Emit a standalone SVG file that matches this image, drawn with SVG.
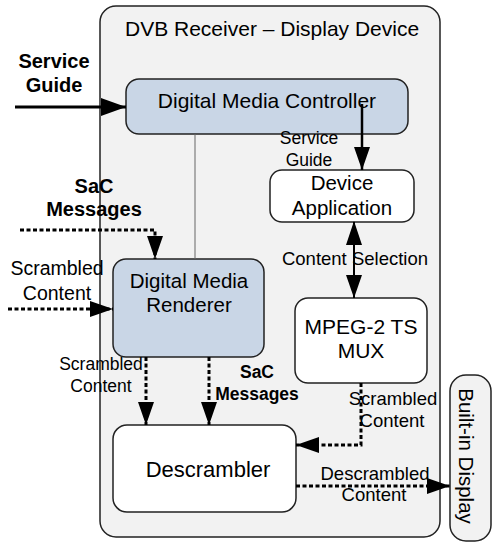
<svg xmlns="http://www.w3.org/2000/svg" width="493" height="544" viewBox="0 0 493 544">
  <style>
    text { font-family: "Liberation Sans", Arial, sans-serif; fill: #000; }
    .box { stroke: #222; stroke-width: 1.5; }
    .blue { fill: #c9d6e6; }
    .white { fill: #fff; }
    .grey { fill: #f2f2f2; }
    .solid { fill: none; stroke: #000; stroke-width: 2.5; }
    .dash { fill: none; stroke: #000; stroke-width: 3; stroke-dasharray: 4 2.5; }
    .big { font-size: 20.5px; }
    .mid { font-size: 18.5px; }
    .small { font-size: 17.5px; }
    .bold { font-size: 20px; font-weight: bold; }
  </style>
  <defs>
    <marker id="arr" markerUnits="userSpaceOnUse" markerWidth="26" markerHeight="18" refX="25" refY="9" orient="auto">
      <path d="M0,0 L25,9 L0,18 Z" fill="#000"/>
    </marker>
    <marker id="arrS" markerUnits="userSpaceOnUse" markerWidth="24" markerHeight="16" refX="23" refY="8" orient="auto">
      <path d="M0,0 L23,8 L0,16 Z" fill="#000"/>
    </marker>
    <marker id="arrStart" markerUnits="userSpaceOnUse" markerWidth="24" markerHeight="16" refX="1" refY="8" orient="auto">
      <path d="M24,0 L0,8 L24,16 Z" fill="#000"/>
    </marker>
  </defs>

  <!-- outer device container -->
  <g id="dvb-receiver">
    <rect class="box grey" x="100" y="6" width="340" height="531" rx="16"/>
    <text class="big" x="125" y="36" style="font-size:21px">DVB Receiver – Display Device</text>
  </g>

  <g id="digital-media-controller">
    <rect class="box blue" x="126" y="79" width="282" height="55" rx="13"/>
    <text class="big" x="267" y="108" text-anchor="middle" style="font-size:21px">Digital Media Controller</text>
  </g>

  <g id="device-application">
    <rect class="box white" x="270" y="170" width="144" height="52" rx="12"/>
    <text class="big" x="342" y="190" text-anchor="middle">Device</text>
    <text class="big" x="342" y="215" text-anchor="middle">Application</text>
  </g>

  <g id="mpeg2-ts-mux">
    <rect class="box white" x="295" y="298" width="132" height="85" rx="13"/>
    <text class="big" x="361" y="334" text-anchor="middle" style="font-size:21px">MPEG-2 TS</text>
    <text class="big" x="361" y="358" text-anchor="middle" style="font-size:21px">MUX</text>
  </g>

  <g id="digital-media-renderer">
    <rect class="box blue" x="113" y="259" width="151" height="98" rx="13"/>
    <text class="big" x="189" y="288" text-anchor="middle">Digital Media</text>
    <text class="big" x="189" y="312" text-anchor="middle">Renderer</text>
  </g>

  <g id="descrambler">
    <rect class="box white" x="113" y="425" width="183" height="87" rx="14"/>
    <text class="big" x="208" y="477" text-anchor="middle" style="font-size:22px">Descrambler</text>
  </g>

  <g id="built-in-display">
    <rect class="box grey" x="450" y="375" width="41" height="166" rx="16"/>
    <text class="big" transform="translate(459,456) rotate(90)" text-anchor="middle">Built-in Display</text>
  </g>

  <!-- connectors -->
  <g id="connectors">
    <line x1="195" y1="134" x2="195" y2="259" stroke="#666" stroke-width="1"/>
    <line class="solid" x1="15" y1="107" x2="126" y2="107" style="stroke-width:3px" marker-end="url(#arr)"/>
    <line class="solid" x1="362" y1="104" x2="362" y2="170" marker-end="url(#arrS)"/>
    <line class="solid" x1="354" y1="222" x2="354" y2="298" style="stroke-width:2px" marker-start="url(#arrStart)" marker-end="url(#arrS)"/>
    <path class="dash" d="M20,230 H155 V259" marker-end="url(#arrS)"/>
    <line class="dash" x1="8" y1="309" x2="113" y2="309" marker-end="url(#arrS)"/>
    <line class="dash" x1="146" y1="357" x2="146" y2="425" marker-end="url(#arrS)"/>
    <line class="dash" x1="209" y1="357" x2="209" y2="425" marker-end="url(#arrS)"/>
    <path class="dash" d="M361,383 V445 H296" marker-end="url(#arrS)"/>
    <line class="dash" x1="296" y1="486" x2="450" y2="486" marker-end="url(#arrS)"/>
  </g>

  <!-- connector labels -->
  <g id="labels">
    <text class="bold" x="54" y="68" text-anchor="middle">Service</text>
    <text class="bold" x="54" y="92" text-anchor="middle">Guide</text>
    <text class="small" x="309" y="144" text-anchor="middle">Service</text>
    <text class="small" x="309" y="166" text-anchor="middle">Guide</text>
    <text class="mid" x="355" y="265" text-anchor="middle">Content Selection</text>
    <text class="bold" x="94" y="193" text-anchor="middle">SaC</text>
    <text class="bold" x="94" y="216" text-anchor="middle">Messages</text>
    <text class="mid" x="57" y="275" text-anchor="middle" style="font-size:19.5px">Scrambled</text>
    <text class="mid" x="57" y="300" text-anchor="middle" style="font-size:19.5px">Content</text>
    <text class="small" x="101" y="370" text-anchor="middle">Scrambled</text>
    <text class="small" x="101" y="392" text-anchor="middle">Content</text>
    <text class="bold" x="257" y="378" text-anchor="middle" style="font-size:17.5px">SaC</text>
    <text class="bold" x="257" y="400" text-anchor="middle" style="font-size:17.5px">Messages</text>
    <text class="mid" x="393" y="405" text-anchor="middle">Scrambled</text>
    <text class="mid" x="392" y="427" text-anchor="middle">Content</text>
    <text class="mid" x="375" y="480" text-anchor="middle">Descrambled</text>
    <text class="mid" x="374" y="501" text-anchor="middle">Content</text>
  </g>
</svg>
